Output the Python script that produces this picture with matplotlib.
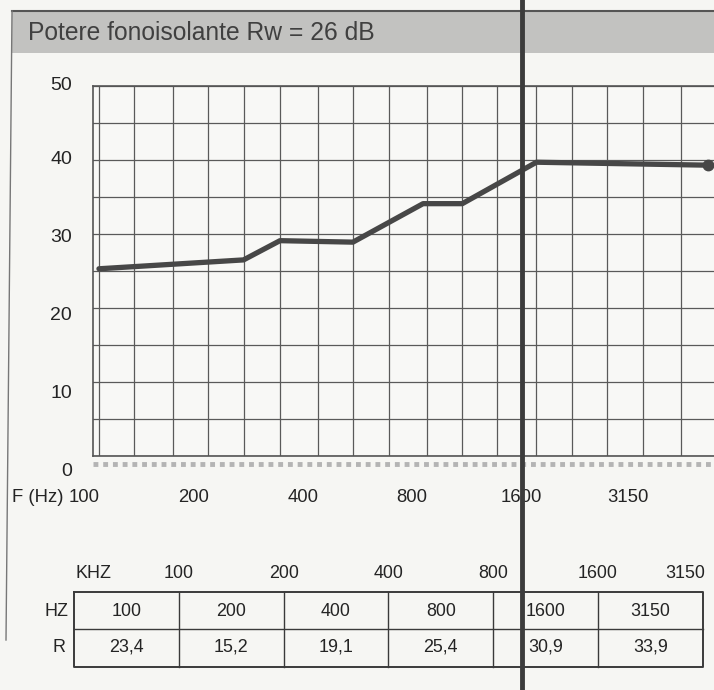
import matplotlib
matplotlib.use("Agg")
import matplotlib.pyplot as plt
from matplotlib import font_manager
from matplotlib.transforms import ScaledTranslation
from matplotlib.patches import Rectangle
from matplotlib.lines import Line2D

# ---- data ----
title_text = "Potere fonoisolante Rw = 26 dB"
curve_freq = [100, 250, 315, 500, 780, 1000, 1600, 4750]
curve_db = [25.3, 26.5, 29.1, 28.9, 34.1, 34.1, 39.7, 39.3]
grid_freq = [100, 125, 160, 200, 250, 315, 400, 500, 630, 800, 1000,
             1250, 1600, 2000, 2500, 3150, 4000]
xtick_freq = [100, 200, 400, 800, 1600, 3150]
xtick_labels = ["100", "200", "400", "800", "1600", "3150"]
ytick_vals = [0, 10, 20, 30, 40, 50]
table_hz = ["100", "200", "400", "800", "1600", "3150"]
table_r = ["23,4", "15,2", "19,1", "25,4", "30,9", "33,9"]

W, H = 714, 690
DPI = 100
fig = plt.figure(figsize=(W / DPI, H / DPI), dpi=DPI)
fig.patch.set_facecolor("#f6f6f3")

available = {f.name for f in font_manager.fontManager.ttflist}
has_narrow = "Liberation Sans Narrow" in available
narrow = ["Liberation Sans Narrow", "Liberation Sans", "DejaVu Sans"] if has_narrow else ["Liberation Sans", "DejaVu Sans"]
nscale = 1.0 if has_narrow else 0.86
sans = ["Liberation Sans", "DejaVu Sans"]
TC = "#242424"

# overlay axes in pixel coordinates for decoration and table
ov = fig.add_axes([0, 0, 1, 1], zorder=0)
ov.set_xlim(0, W)
ov.set_ylim(H, 0)
ov.axis("off")
ov.patch.set_alpha(0)

# header band
ov.add_patch(Rectangle((12, 11), W - 12, 42, facecolor="#c2c2c0", edgecolor="none"))
ov.plot([12, W], [11, 11], color="#555555", lw=1.5)
ov.plot([12, 6], [11, 640], color="#777777", lw=1.0)
ov.text(28, 33, title_text, fontsize=17.7, color="#404040", family=sans,
        ha="left", va="center")

# main chart
ax = fig.add_axes([93 / W, (H - 456) / H, (W - 93) / W, (456 - 86) / H], zorder=2)
ax.set_facecolor("#f8f8f6")
ax.set_xscale("log")
ax.set_xlim(96.3, 4930)
ax.set_ylim(0, 50)
for f in grid_freq:
    ax.axvline(f, color="#5a5a5a", lw=0.9, zorder=1)
for v in range(0, 51, 5):
    ax.axhline(v, color="#5a5a5a", lw=0.9, zorder=1)
ax.plot(curve_freq, curve_db, color="#474747", lw=3.8, solid_capstyle="round",
        zorder=3)
ax.plot(curve_freq[-1:], curve_db[-1:], "o", color="#474747", ms=7.5, zorder=4)

ax.set_xticks(xtick_freq)
ax.set_xticklabels(xtick_labels)
ax.minorticks_off()
ax.set_yticks(ytick_vals)
ax.tick_params(axis="both", length=0, labelcolor=TC)
ax.tick_params(axis="x", pad=24, labelsize=15.5 * nscale)
ax.tick_params(axis="y", pad=15, labelsize=14)
for lab in ax.get_xticklabels():
    lab.set_family(narrow)
    lab.set_transform(lab.get_transform() + ScaledTranslation(-15 / DPI, 0, fig.dpi_scale_trans))
y_label_shift = {50: 3, 40: 3, 30: -1, 20: -6, 10: -9, 0: -13}
for v, lab in zip(ytick_vals, ax.get_yticklabels()):
    lab.set_family(sans)
    lab.set_transform(lab.get_transform() + ScaledTranslation(0, y_label_shift[v] / DPI, fig.dpi_scale_trans))
for s in ["top", "left", "bottom"]:
    ax.spines[s].set_color("#555555")
    ax.spines[s].set_linewidth(1.2)
ax.spines["right"].set_visible(False)

# textured strip under the baseline
ax.add_line(Line2D([0, 1], [-0.022, -0.022], transform=ax.transAxes, color="#b4b4b4",
                   lw=3.5, ls=(0, (1, 1)), clip_on=False))

ov.text(64, 497, "F (Hz)", fontsize=15.5 * nscale, color=TC, family=narrow,
        ha="right", va="center", zorder=5)

# table
left, cw = 74, 104.8
top, mid, bot = 592, 629, 667
n = len(table_hz)
right = left + cw * n
lc = "#3a3a3a"
fs = 15 * nscale
ov.plot([left, right, right, left, left], [top, top, bot, bot, top], color=lc, lw=1.4)
ov.plot([left, right], [mid, mid], color=lc, lw=1.0)
for i in range(1, n):
    x = left + cw * i
    ov.plot([x, x], [top, bot], color=lc, lw=1.0)
for i in range(n):
    cx = left + cw * (i + 0.5)
    ov.text(cx, (top + mid) / 2 + 1, table_hz[i], fontsize=fs, color=TC,
            family=narrow, ha="center", va="center")
    ov.text(cx, (mid + bot) / 2 - 1, table_r[i], fontsize=fs, color=TC,
            family=narrow, ha="center", va="center")
    bx = left + cw * (i + 1)
    if i < n - 1:
        ov.text(bx, 573, table_hz[i], fontsize=fs, color=TC,
                family=narrow, ha="center", va="center")
    else:
        ov.text(bx + 2, 573, table_hz[i], fontsize=fs, color=TC,
                family=narrow, ha="right", va="center")
ov.text(93, 573, "KHZ", fontsize=fs, color=TC, family=narrow,
        ha="center", va="center")
ov.text(68, (top + mid) / 2 + 1, "HZ", fontsize=fs, color=TC, family=narrow,
        ha="right", va="center")
ov.text(65, (mid + bot) / 2, "R", fontsize=fs, color=TC, family=narrow,
        ha="right", va="center")

# scanned fold line
top_ax = fig.add_axes([0, 0, 1, 1], zorder=10)
top_ax.set_xlim(0, W)
top_ax.set_ylim(H, 0)
top_ax.axis("off")
top_ax.patch.set_alpha(0)
top_ax.plot([522, 522], [0, H], color="#3c3c3c", lw=3.5)

fig.savefig("out.png", dpi=DPI, facecolor=fig.get_facecolor())
